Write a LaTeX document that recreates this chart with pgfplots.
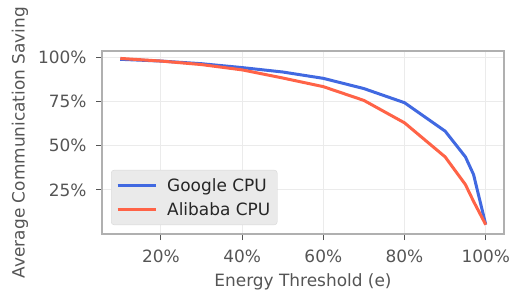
\documentclass[border=0pt]{standalone}
\usepackage{pgfplots}
\pgfplotsset{compat=1.18}
\usepackage{fontspec}
\setmainfont{DejaVu Sans}
\definecolor{gblue}{RGB}{65,105,225}
\definecolor{ared}{RGB}{255,99,71}
\definecolor{txtgray}{RGB}{85,85,85}
\definecolor{framegray}{RGB}{176,176,176}
\definecolor{gridgray}{RGB}{235,235,235}
\definecolor{legfill}{RGB}{234,234,234}
\definecolor{legdraw}{RGB}{215,215,215}
\begin{document}
\begin{tikzpicture}
\begin{axis}[
  scale only axis,
  width=402bp, height=183bp,
  xmin=0.055, xmax=1.045,
  ymin=0, ymax=1.037,
  xtick={0.2,0.4,0.6,0.8,1.0},
  xticklabels={20\%,40\%,60\%,80\%,100\%},
  ytick={0.25,0.5,0.75,1.0},
  yticklabels={25\%,50\%,75\%,100\%},
  grid=major,
  major grid style={gridgray, line width=1bp},
  axis line style={framegray, line width=1.6bp},
  tick align=outside,
  major tick length=6bp,
  tick style={txtgray, line width=1bp},
  xtick pos=bottom, ytick pos=left,
  ticklabel style={font=\fontsize{17}{20}\selectfont, text=txtgray},
  xticklabel style={anchor=base, yshift=-22bp},
  yticklabel style={anchor=east, xshift=-6bp},
  xlabel={Energy Threshold (e)},
  ylabel={Average Communication Saving},
  label style={font=\fontsize{17}{20}\selectfont, text=txtgray},
  xlabel style={at={(axis description cs:0.5,0)}, anchor=center, yshift=-48bp},
  ylabel style={at={(axis description cs:0,0.5)}, anchor=center, yshift=82bp},
  legend style={at={(axis description cs:0.0224,0.049)}, anchor=south west,
    fill=legfill, draw=legdraw, rounded corners=3bp,
    font=\fontsize{17}{20}\selectfont, text=black!85,
    inner xsep=5bp, inner ysep=6bp, row sep=6bp},
  legend cell align=left,
  legend image code/.code={\draw[#1, line width=3bp] (0bp,0bp) -- (38bp,0bp); \path (46bp,0bp);},
]
\addplot[gblue, line width=3bp] coordinates {
(0.1,0.990) (0.2,0.980) (0.3,0.965) (0.4,0.943) (0.5,0.918) (0.6,0.882)
(0.7,0.824) (0.8,0.744) (0.9,0.583) (0.95,0.437) (0.97,0.337) (1.0,0.053)};
\addlegendentry{Google CPU}
\addplot[ared, line width=3bp] coordinates {
(0.1,0.995) (0.2,0.980) (0.3,0.960) (0.4,0.930) (0.5,0.884) (0.6,0.835)
(0.7,0.757) (0.8,0.630) (0.9,0.437) (0.95,0.280) (0.97,0.185) (1.0,0.053)};
\addlegendentry{Alibaba CPU}
\end{axis}
\pgfresetboundingbox
\path[use as bounding box] ([shift={(-102bp,-65bp)}]current axis.south west) rectangle ([shift={(22bp,51bp)}]current axis.north east);
\end{tikzpicture}
\end{document}
